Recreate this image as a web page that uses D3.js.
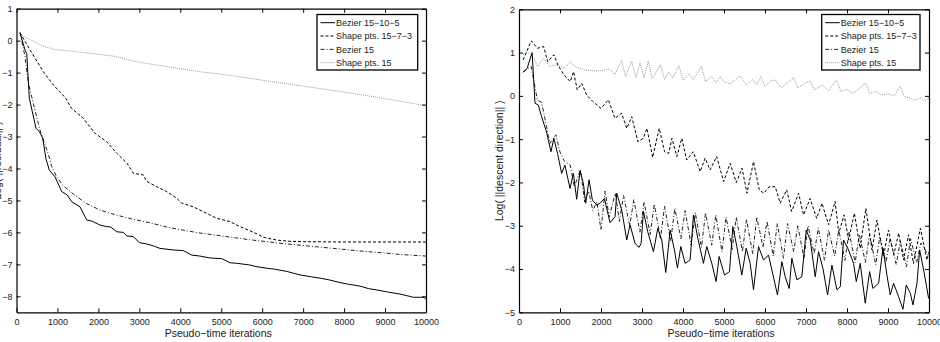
<!DOCTYPE html>
<html>
<head>
<meta charset="utf-8">
<script src="https://cdn.jsdelivr.net/npm/d3@7"></script>
<style>
  body { margin: 0; background: #fff; }
  svg { display: block; font-family: "Liberation Sans", Arial, sans-serif; }
</style>
</head>
<body>
<svg id="chart" width="940" height="342"></svg>
<script>
// series names, shared by both panels
var seriesNames = ["Bezier 15\u221210\u22125", "Shape pts. 15\u22127\u22123", "Bezier 15", "Shape pts. 15"];
var xTicks = [0, 1000, 2000, 3000, 4000, 5000, 6000, 7000, 8000, 9000, 10000];
var leftYTicks = [-8, -7, -6, -5, -4, -3, -2, -1, 0, 1];
var rightYTicks = [-5, -4, -3, -2, -1, 0, 1, 2];

// left panel: residual, [iteration, log value]
var resBezier3 = [[85,0.25],[210,-0.3],[250,-0.4],[313,-1.8],[476,-2.74],[560,-2.85],[640,-3.05],[720,-3.7],[801,-4.05],[940,-4.26],[1103,-4.72],[1241,-4.83],[1347,-5.04],[1551,-5.2],[1714,-5.61],[1850,-5.65],[2039,-5.77],[2200,-5.82],[2300,-5.83],[2446,-5.98],[2609,-6.0],[2690,-6.11],[2853,-6.13],[3000,-6.32],[3175,-6.36],[3337,-6.42],[3504,-6.5],[3830,-6.55],[4074,-6.57],[4278,-6.71],[4480,-6.74],[4720,-6.8],[5010,-6.82],[5213,-6.95],[5400,-6.97],[5700,-7.02],[5850,-7.07],[6110,-7.12],[6300,-7.15],[6598,-7.22],[6923,-7.33],[7200,-7.39],[7453,-7.44],[7650,-7.49],[7900,-7.57],[8100,-7.62],[8388,-7.68],[8600,-7.76],[8800,-7.8],[9040,-7.86],[9365,-7.93],[9600,-8.0],[9690,-8.03],[9950,-8.03],[10000,-8.1]];
var resShape3 = [[85,0.25],[330,-0.29],[655,-0.97],[900,-1.39],[1062,-1.6],[1200,-1.8],[1347,-2.12],[1632,-2.43],[1917,-2.9],[2200,-3.16],[2446,-3.52],[2700,-3.84],[2853,-4.15],[3097,-4.2],[3175,-4.4],[3424,-4.57],[3665,-4.72],[3912,-4.93],[4030,-5.08],[4317,-5.2],[4560,-5.35],[4889,-5.56],[5210,-5.66],[5460,-5.82],[5700,-5.95],[5910,-6.07],[6027,-6.15],[6354,-6.24],[6676,-6.28],[7000,-6.29],[8000,-6.3],[10000,-6.3]];
var resBezier1 = [[85,0.25],[208,-0.5],[290,-1.33],[410,-1.96],[532,-2.59],[574,-2.8],[655,-3.1],[777,-3.55],[860,-3.94],[981,-4.26],[1143,-4.54],[1388,-4.8],[1714,-5.1],[2039,-5.3],[2446,-5.46],[2853,-5.59],[3260,-5.7],[3667,-5.83],[4073,-5.93],[4480,-6.02],[4890,-6.09],[5290,-6.16],[5700,-6.23],[6110,-6.29],[6516,-6.35],[6923,-6.4],[7330,-6.45],[7735,-6.5],[8140,-6.55],[8550,-6.6],[8955,-6.64],[9360,-6.69],[10000,-6.74]];
var resShape1 = [[85,0.2],[574,-0.13],[900,-0.27],[1225,-0.31],[1630,-0.37],[2039,-0.43],[2446,-0.5],[2853,-0.64],[3260,-0.73],[3667,-0.81],[4073,-0.89],[4480,-0.97],[5294,-1.1],[6110,-1.26],[6923,-1.41],[7735,-1.56],[8550,-1.72],[9365,-1.89],[10000,-2.04]];

// right panel: descent direction, [iteration, log value]
var dirBezier3 = [[100,0.54],[200,0.64],[320,1.0],[390,-0.17],[470,-0.21],[550,-0.48],[670,-0.83],[780,-1.29],[850,-0.98],[940,-1.33],[1040,-1.79],[1120,-1.6],[1245,-2.14],[1326,-1.79],[1407,-2.39],[1489,-1.73],[1570,-2.02],[1627,-2.48],[1709,-1.94],[1790,-2.41],[1896,-2.52],[1977,-2.48],[2083,-2.37],[2221,-2.93],[2343,-2.79],[2384,-2.25],[2506,-2.64],[2628,-3.33],[2709,-2.98],[2831,-3.41],[2929,-3.5],[2978,-3.41],[3035,-2.67],[3140,-3.14],[3279,-3.6],[3385,-3.06],[3482,-3.33],[3580,-4.08],[3686,-3.1],[3791,-3.56],[3865,-3.98],[3946,-3.48],[4052,-3.87],[4174,-3.79],[4255,-2.75],[4361,-3.29],[4499,-3.87],[4580,-3.48],[4702,-3.87],[4808,-4.29],[4881,-3.71],[5012,-4.14],[5134,-4.06],[5215,-3.02],[5313,-3.48],[5435,-4.14],[5541,-3.52],[5638,-3.87],[5720,-4.48],[5842,-3.48],[5964,-3.79],[6086,-3.68],[6167,-4.02],[6305,-4.6],[6411,-3.83],[6493,-4.18],[6590,-4.45],[6655,-3.75],[6777,-4.25],[6899,-4.18],[7005,-3.1],[7103,-3.33],[7225,-4.18],[7306,-3.6],[7412,-3.98],[7526,-4.6],[7632,-3.91],[7754,-4.48],[7835,-4.41],[7916,-3.33],[8038,-3.56],[8160,-3.87],[8226,-4.29],[8323,-3.87],[8445,-4.79],[8551,-4.06],[8632,-4.45],[8771,-4.33],[8876,-3.52],[8974,-4.14],[9055,-4.6],[9137,-4.33],[9259,-4.64],[9365,-4.93],[9446,-4.37],[9544,-4.56],[9609,-4.83],[9707,-4.33],[9772,-3.56],[9869,-4.02],[9991,-4.68]];
var dirShape3 = [[100,0.83],[300,1.27],[450,1.1],[600,1.14],[700,0.79],[850,0.95],[950,0.71],[1100,0.48],[1250,0.33],[1330,0.56],[1420,0.14],[1530,0.29],[1650,0.02],[1800,-0.13],[2000,-0.29],[2180,-0.09],[2340,-0.52],[2500,-0.4],[2630,-0.75],[2750,-0.48],[2900,-1.06],[3030,-0.98],[3120,-0.75],[3260,-1.42],[3420,-0.75],[3550,-1.29],[3650,-1.33],[3730,-0.98],[3850,-1.4],[3970,-0.98],[4090,-1.48],[4250,-1.29],[4420,-1.75],[4540,-1.44],[4660,-1.71],[4820,-1.4],[4990,-1.98],[5150,-1.56],[5300,-2.0],[5440,-1.67],[5560,-2.25],[5720,-1.52],[5860,-2.17],[5970,-2.25],[6100,-2.1],[6250,-2.1],[6370,-2.48],[6530,-2.17],[6650,-2.67],[6820,-2.25],[6940,-2.75],[7100,-2.37],[7260,-2.83],[7390,-2.48],[7550,-2.98],[7710,-2.44],[7800,-3.17],[7930,-2.75],[8040,-3.33],[8180,-2.71],[8320,-3.52],[8460,-2.6],[8610,-3.56],[8730,-2.87],[8890,-3.71],[9010,-3.1],[9140,-3.67],[9260,-3.17],[9380,-3.79],[9500,-3.21],[9620,-3.87],[9790,-3.06],[9950,-3.79],[10000,-3.6]];
var dirBezier1 = [[100,0.56],[300,0.68],[350,0.4],[450,-0.1],[550,-0.15],[650,-0.6],[750,-1.1],[900,-0.9],[1000,-1.3],[1100,-1.5],[1250,-1.6],[1350,-2.1],[1500,-1.7],[1600,-2.45],[1700,-2.2],[1800,-2.65],[1900,-2.45],[2000,-3.1],[2100,-2.2],[2200,-2.8],[2350,-2.25],[2450,-2.9],[2550,-2.3],[2700,-3.0],[2800,-2.4],[2950,-3.15],[3050,-2.45],[3200,-3.2],[3300,-2.5],[3450,-3.3],[3550,-2.55],[3700,-3.35],[3800,-2.6],[3950,-3.3],[4050,-2.65],[4200,-3.45],[4300,-2.7],[4450,-3.5],[4550,-2.7],[4700,-3.45],[4800,-2.75],[4950,-3.6],[5050,-2.8],[5200,-3.55],[5300,-2.8],[5450,-3.6],[5550,-2.85],[5700,-3.65],[5800,-2.8],[5950,-3.5],[6050,-2.9],[6200,-3.7],[6300,-2.95],[6450,-3.75],[6550,-2.95],[6700,-3.6],[6800,-3.0],[6950,-3.75],[7050,-3.0],[7200,-3.65],[7300,-3.05],[7450,-3.8],[7550,-3.1],[7700,-3.7],[7800,-3.1],[7950,-3.8],[8050,-3.15],[8200,-3.85],[8300,-3.2],[8450,-3.85],[8550,-3.2],[8700,-3.9],[8800,-3.25],[8950,-3.85],[9050,-3.3],[9200,-3.9],[9300,-3.35],[9450,-3.95],[9550,-3.3],[9700,-3.85],[9800,-3.4],[10000,-3.7]];
var dirShape1 = [[100,0.95],[200,1.02],[350,0.9],[450,0.68],[600,0.87],[750,0.68],[900,0.72],[1100,0.64],[1250,0.78],[1400,0.66],[1600,0.6],[1800,0.58],[2000,0.58],[2200,0.62],[2350,0.5],[2500,0.82],[2600,0.45],[2750,0.8],[2850,0.42],[2950,0.76],[3050,0.42],[3150,0.8],[3250,0.4],[3450,0.72],[3550,0.38],[3650,0.55],[3750,0.42],[3900,0.7],[4000,0.36],[4150,0.5],[4250,0.38],[4450,0.68],[4550,0.33],[4700,0.45],[4800,0.3],[4900,0.45],[5000,0.32],[5150,0.28],[5400,0.46],[5550,0.25],[5700,0.38],[5800,0.26],[5900,0.45],[6000,0.22],[6150,0.35],[6250,0.37],[6400,0.18],[6550,0.3],[6700,0.42],[6800,0.18],[6950,0.28],[7100,0.34],[7200,0.14],[7400,0.25],[7550,0.12],[7750,0.37],[7850,0.1],[8000,0.15],[8150,0.05],[8450,0.3],[8550,0.06],[8700,0.1],[8850,0.02],[9000,0.05],[9150,0.0],[9300,0.22],[9400,-0.02],[9550,-0.05],[9650,-0.1],[9800,-0.05],[9900,-0.12],[10000,-0.05]];

var svg = d3.select("#chart");

// line looks, same order as seriesNames
var styles = [
  { stroke: "#000", dash: null, width: 1 },
  { stroke: "#000", dash: "3,2", width: 1 },
  { stroke: "#222", dash: "4,2,1,2", width: 1 },
  { stroke: "#999", dash: "1,1", width: 1 }
];

function drawPanel(p) {
  var g = svg.append("g");
  var x = d3.scaleLinear().domain([0, 10000]).range([p.left, p.right]);
  var y = d3.scaleLinear().domain(p.yDomain).range([p.bottom, p.top]);

  var line = d3.line().x(function (d) { return x(d[0]); }).y(function (d) { return y(d[1]); });

  // clip to the box
  var clipId = "clip" + p.id;
  svg.append("clipPath").attr("id", clipId).append("rect")
    .attr("x", p.left).attr("y", p.top)
    .attr("width", p.right - p.left).attr("height", p.bottom - p.top);

  // draw lighter series first so solid ends on top
  [3, 2, 1, 0].forEach(function (i) {
    g.append("path")
      .attr("clip-path", "url(#" + clipId + ")")
      .attr("d", line(p.series[i]))
      .attr("fill", "none")
      .attr("stroke", styles[i].stroke)
      .attr("stroke-width", styles[i].width)
      .attr("stroke-dasharray", styles[i].dash);
  });

  // matlab style box with inward ticks on all sides
  var fmt = function (d) { return String(d).replace("-", "\u2212"); };
  g.append("g").attr("transform", "translate(0," + p.bottom + ")")
    .call(d3.axisBottom(x).tickValues(xTicks).tickSizeInner(-4).tickSizeOuter(0).tickPadding(6).tickFormat(fmt));
  g.append("g").attr("transform", "translate(0," + p.top + ")")
    .call(d3.axisTop(x).tickValues(xTicks).tickSizeInner(-4).tickSizeOuter(0).tickFormat(""));
  g.append("g").attr("transform", "translate(" + p.left + ",0)")
    .call(d3.axisLeft(y).tickValues(p.yTicks).tickSizeInner(-4).tickSizeOuter(0).tickPadding(4).tickFormat(fmt));
  g.append("g").attr("transform", "translate(" + p.right + ",0)")
    .call(d3.axisRight(y).tickValues(p.yTicks).tickSizeInner(-4).tickSizeOuter(0).tickFormat(""));

  g.selectAll(".domain").attr("stroke", "#000").attr("stroke-width", 1.2);
  g.selectAll(".tick line").attr("stroke", "#000");
  g.selectAll(".tick text").attr("font-size", "9px").attr("fill", "#222")
    .attr("font-family", "Liberation Sans, Arial, sans-serif");

  g.append("text")
    .attr("x", (p.left + p.right) / 2 - 3).attr("y", 337)
    .attr("text-anchor", "middle").attr("font-size", "10.5px").attr("fill", "#222")
    .text("Pseudo\u2212time iterations");

  g.append("text")
    .attr("transform", "translate(" + (p.left - 16) + "," + ((p.top + p.bottom) / 2) + ") rotate(-90)")
    .attr("text-anchor", "middle").attr("font-size", "10.5px").attr("fill", "#222")
    .text(p.yLabel);

  // legend
  var lg = g.append("g");
  lg.append("rect")
    .attr("x", p.legX).attr("y", 14.5).attr("width", p.legW).attr("height", 55.5)
    .attr("fill", "#fff").attr("stroke", "#000").attr("stroke-width", 1.3);
  seriesNames.forEach(function (name, i) {
    var yy = 22.7 + i * 13.33;
    lg.append("line")
      .attr("x1", p.legX + 3.5).attr("x2", p.legX + 18).attr("y1", yy).attr("y2", yy)
      .attr("stroke", styles[i].stroke).attr("stroke-width", styles[i].width)
      .attr("stroke-dasharray", styles[i].dash);
    lg.append("text")
      .attr("x", p.legX + 19).attr("y", yy + 3.2)
      .attr("font-size", "9px").attr("fill", "#222")
      .text(name);
  });
}

drawPanel({
  id: "L", left: 16.5, right: 426, top: 8.7, bottom: 312.3,
  yDomain: [-8.5, 1], yTicks: leftYTicks,
  yLabel: "Log( ||residual|| )",
  series: [resBezier3, resShape3, resBezier1, resShape1],
  legX: 317, legW: 100.7
});

drawPanel({
  id: "R", left: 519, right: 929, top: 9.3, bottom: 312.3,
  yDomain: [-5, 2], yTicks: rightYTicks,
  yLabel: "Log( ||descent direction|| )",
  series: [dirBezier3, dirShape3, dirBezier1, dirShape1],
  legX: 821.7, legW: 98.3
});
</script>
</body>
</html>
